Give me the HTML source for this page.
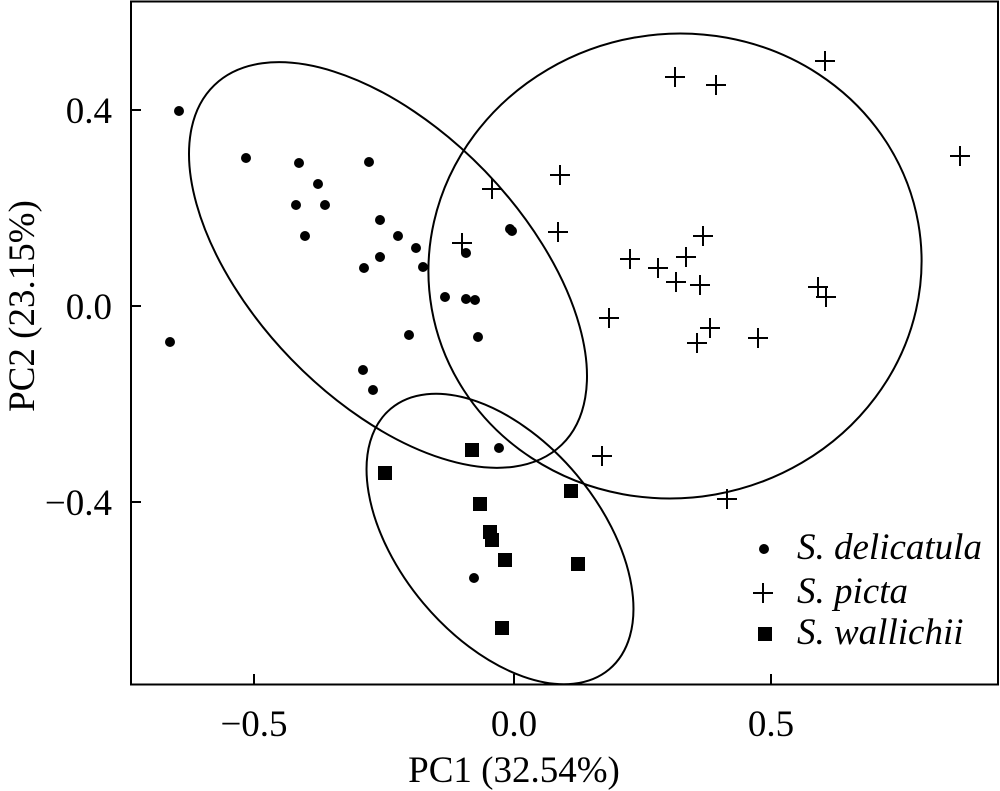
<!DOCTYPE html>
<html><head><meta charset="utf-8"><style>
body{margin:0;background:#fff}
svg{display:block}
text{font-family:"Liberation Serif",serif;fill:#000}
</style></head><body>
<svg width="1000" height="791" viewBox="0 0 1000 791" xmlns="http://www.w3.org/2000/svg">
<rect x="131" y="1.5" width="867" height="683" fill="none" stroke="#000" stroke-width="2"/>
<g stroke="#000" stroke-width="2">
<line x1="254" y1="684" x2="254" y2="674"/><line x1="514" y1="684" x2="514" y2="674"/><line x1="771" y1="684" x2="771" y2="674"/>
<line x1="131" y1="110" x2="141" y2="110"/><line x1="131" y1="306" x2="141" y2="306"/><line x1="131" y1="502" x2="141" y2="502"/>
</g>
<g style="font-size:37px">
<text x="112" y="123" text-anchor="end">0.4</text>
<text x="112" y="319" text-anchor="end">0.0</text>
<text x="112" y="515" text-anchor="end">−0.4</text>
<text x="254" y="736" text-anchor="middle">−0.5</text>
<text x="514" y="736" text-anchor="middle">0.0</text>
<text x="771" y="736" text-anchor="middle">0.5</text>
<text x="514" y="782" text-anchor="middle">PC1 (32.54%)</text>
<text transform="translate(34,306) rotate(-90)" text-anchor="middle">PC2 (23.15%)</text>
</g>
<g fill="none" stroke="#000" stroke-width="2">
<ellipse cx="388" cy="265" rx="250" ry="135" transform="rotate(46 388 265)"/>
<ellipse cx="675" cy="266" rx="247" ry="232" transform="rotate(-10 675 266)"/>
<ellipse cx="500" cy="539" rx="170" ry="100" transform="rotate(50 500 539)"/>
</g>
<g fill="#000">
<circle cx="179" cy="111" r="5"/><circle cx="246" cy="158" r="5"/><circle cx="299" cy="163" r="5"/><circle cx="369" cy="162" r="5"/>
<circle cx="318" cy="184" r="5"/><circle cx="296" cy="205" r="5"/><circle cx="325" cy="205" r="5"/><circle cx="305" cy="236" r="5"/>
<circle cx="380" cy="220" r="5"/><circle cx="398" cy="236" r="5"/><circle cx="416" cy="248" r="5"/><circle cx="466" cy="253" r="5"/>
<circle cx="512" cy="231" r="5"/><circle cx="510" cy="229" r="5"/><circle cx="364" cy="268" r="5"/><circle cx="380" cy="257" r="5"/>
<circle cx="423" cy="267" r="5"/><circle cx="445" cy="297" r="5"/><circle cx="466" cy="299" r="5"/><circle cx="475" cy="300" r="5"/>
<circle cx="409" cy="335" r="5"/><circle cx="478" cy="337" r="5"/><circle cx="170" cy="342" r="5"/><circle cx="363" cy="370" r="5"/>
<circle cx="373" cy="390" r="5"/><circle cx="499" cy="448" r="5"/><circle cx="474" cy="578" r="5"/>
<circle cx="764" cy="549" r="5"/>
</g>
<g fill="#000">
<rect x="465" y="443" width="14" height="14"/><rect x="378" y="466" width="14" height="14"/><rect x="473" y="497" width="14" height="14"/>
<rect x="483" y="525" width="14" height="14"/><rect x="485" y="533" width="14" height="14"/><rect x="498" y="553" width="14" height="14"/>
<rect x="564" y="484" width="14" height="14"/><rect x="571" y="557" width="14" height="14"/><rect x="495" y="621" width="14" height="14"/>
<rect x="758" y="627" width="14" height="14"/>
</g>
<g stroke="#000" stroke-width="2" fill="none">
<path d="M482 189h20M492 179v20 M550 175h20M560 165v20 M548 232h20M558 222v20 M452 243h20M462 233v20 M620 259h20M630 249v20 M648 268h20M658 258v20 M676 257h20M686 247v20 M666 282h20M676 272v20 M693 236h20M703 226v20 M690 285h20M700 275v20 M599 318h20M609 308v20 M700 328h20M710 318v20 M687 343h20M697 333v20 M748 338h20M758 328v20 M808 287h20M818 277v20 M816 297h20M826 287v20 M665 77h20M675 67v20 M706 85h20M716 75v20 M815 61h20M825 51v20 M950 156h20M960 146v20 M592 456h20M602 446v20 M717 499h20M727 489v20 M753 593h20M763 583v20"/>
</g>
<g style="font-size:37px;font-style:italic">
<text x="797" y="559">S. delicatula</text>
<text x="797" y="603">S. picta</text>
<text x="797" y="644">S. wallichii</text>
</g>
</svg>
</body></html>
